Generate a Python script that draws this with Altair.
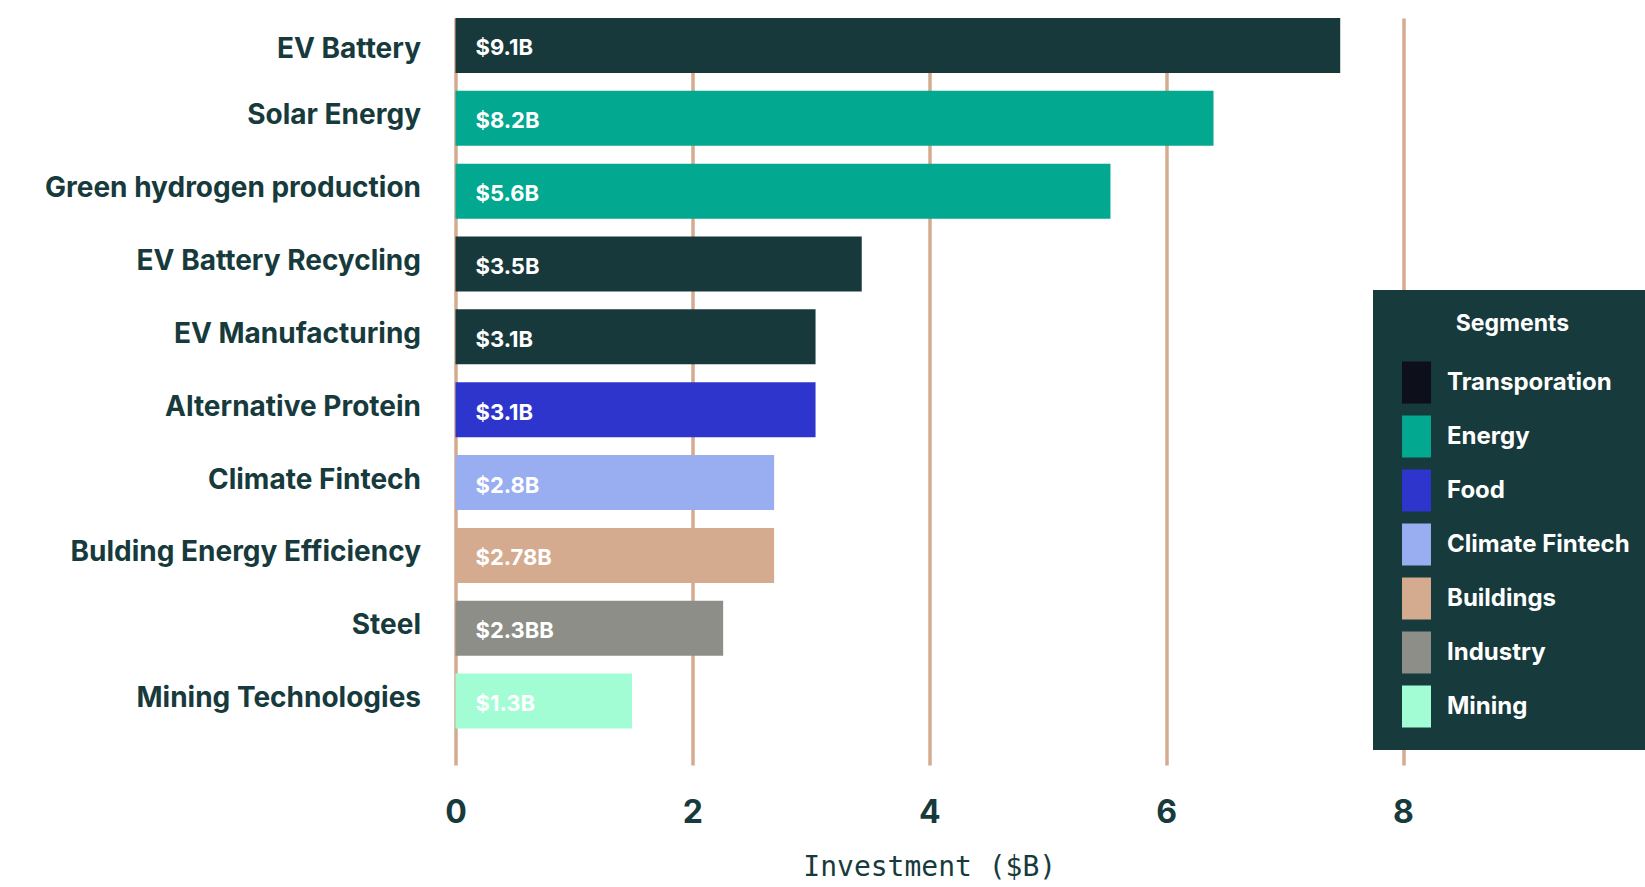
import altair as alt
import pandas as pd

names = ["EV Battery", "Solar Energy", "Green hydrogen production", "EV Battery Recycling",
         "EV Manufacturing", "Alternative Protein", "Climate Fintech",
         "Bulding Energy Efficiency", "Steel", "Mining Technologies"]
values = [7.47, 6.40, 5.53, 3.43, 3.04, 3.04, 2.69, 2.69, 2.26, 1.49]
labels = ["$9.1B", "$8.2B", "$5.6B", "$3.5B", "$3.1B", "$3.1B", "$2.8B", "$2.78B", "$2.3BB", "$1.3B"]
segments = ["Transporation", "Energy", "Energy", "Transporation", "Transporation", "Food",
            "Climate Fintech", "Buildings", "Industry", "Mining"]

seg_domain = ["Transporation", "Energy", "Food", "Climate Fintech", "Buildings", "Industry", "Mining"]
bar_colors = ["#18393b", "#02a88f", "#2e35cc", "#98aef0", "#d4ab8f", "#8e8e88", "#a2fdd5"]
legend_colors = ["#0d0f1a", "#02a88f", "#2e35cc", "#98aef0", "#d4ab8f", "#8e8e88", "#a2fdd5"]
x_ticks = [0, 2, 4, 6, 8]

TEXT = "#173a3c"
FONT = "Inter"

df = pd.DataFrame({"name": names, "value": values, "label": labels, "segment": segments})

y_enc = alt.Y("name:N", sort=names, title=None,
              scale=alt.Scale(paddingInner=0.245, paddingOuter=0.25, align=0),
              axis=alt.Axis(labelFont=FONT, labelFontSize=28, labelFontWeight=700,
                            labelColor=TEXT, labelPadding=35, ticks=False, domain=False,
                            grid=False, labelLimit=600,
                            labelOffset={"condition": {"test": "datum.value === 'EV Battery'", "value": 5},
                                         "value": -2}))
x_enc = alt.X("value:Q", title="Investment ($B)",
              scale=alt.Scale(domain=[0, 8], nice=False),
              axis=alt.Axis(values=x_ticks, format="d", grid=True, gridColor="#d4ab8f",
                            gridWidth=3.5, gridOpacity=1, domain=False, ticks=False,
                            labelFlush=False,
                            labelFont=FONT, labelFontSize=32, labelFontWeight=700,
                            labelColor=TEXT, labelPadding=32,
                            titleFont="DejaVu Sans Mono", titleFontSize=28, titleFontWeight=400,
                            titleColor=TEXT, titlePadding=25))

base = alt.Chart(df)

legend_layer = base.mark_square(opacity=0, size=1).encode(
    x=alt.X("value:Q", scale=alt.Scale(domain=[0, 8], nice=False)),
    y=alt.Y("name:N", sort=names),
    color=alt.Color("segment:N",
                    scale=alt.Scale(domain=seg_domain, range=legend_colors),
                    legend=alt.Legend(title="Segments", orient="none", legendX=917.5, legendY=272,
                                      fillColor="#173a3c", padding=22.5, cornerRadius=0,
                                      titleColor="white", titleFont=FONT, titleFontSize=23,
                                      titleFontWeight=700, titleAnchor="middle", titlePadding=26,
                                      labelColor="white", labelFont=FONT, labelFontSize=24,
                                      labelFontWeight=700, labelOffset=9.5, labelLimit=400,
                                      symbolType="M-0.69,-1L0.69,-1L0.69,1L-0.69,1Z",
                                      symbolSize=1764, symbolOpacity=1, symbolStrokeWidth=0,
                                      rowPadding=12)),
)

bars = base.mark_bar().encode(
    x=x_enc,
    y=y_enc,
    fill=alt.Fill("segment:N", scale=alt.Scale(domain=seg_domain, range=bar_colors), legend=None),
)

text = base.mark_text(align="left", baseline="middle", dx=20, dy=3, color="white",
                      font=FONT, fontSize=22, fontWeight=700).encode(
    x=alt.datum(0),
    y=alt.Y("name:N", sort=names),
    text="label:N",
)

chart = alt.layer(legend_layer, bars, text).properties(
    width=947.5, height=747,
    autosize=alt.AutoSizeParams(type="none"),
    padding={"left": 455.5, "top": 18, "right": 242, "bottom": 122},
).configure(background="white", view=alt.ViewConfig(stroke=None))

chart.save("out.html", embed_options={"renderer": "svg", "actions": False})
